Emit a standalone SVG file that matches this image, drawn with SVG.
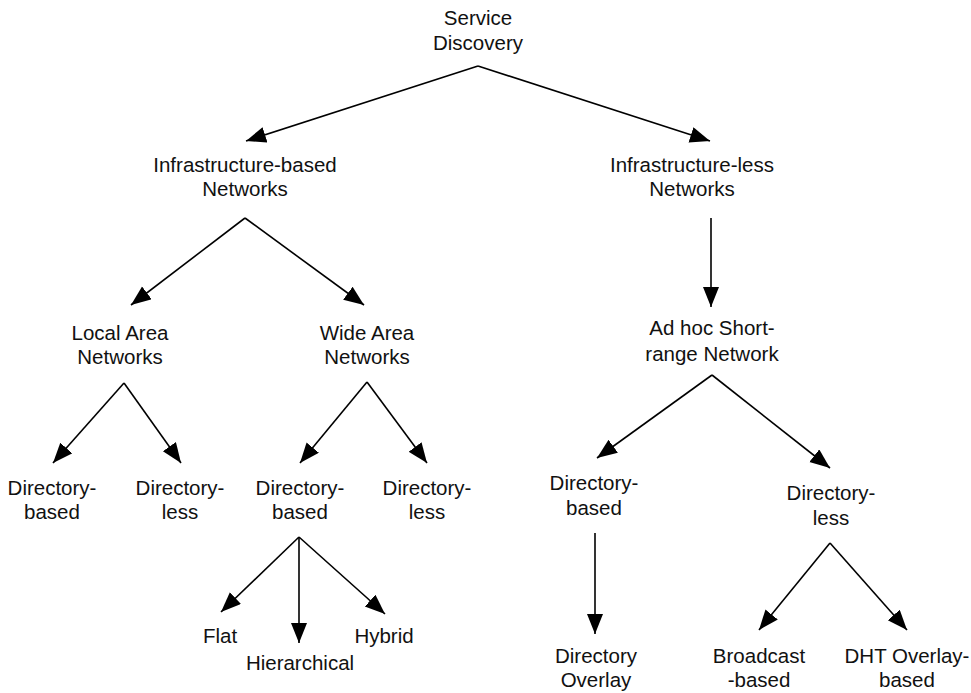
<svg xmlns="http://www.w3.org/2000/svg" width="971" height="693" viewBox="0 0 971 693">
  <style>
    text { font-family: "Liberation Sans", Arial, sans-serif; font-size: 20.5px; fill: #111; text-anchor: middle; }
    .edge { stroke: #000; stroke-width: 1.6; fill: none; marker-end: url(#arrow); }
  </style>
  <defs>
    <marker id="arrow" markerUnits="userSpaceOnUse" markerWidth="22" markerHeight="18" refX="20" refY="8" orient="auto">
      <path d="M0,0 L20,8 L0,16 z" fill="#000"/>
    </marker>
  </defs>
  <rect width="971" height="693" fill="#fff"/>

  <g id="connectors">
    <line class="edge" x1="478" y1="66" x2="246" y2="141"/>
    <line class="edge" x1="478" y1="66" x2="710" y2="141"/>
    <line class="edge" x1="245" y1="218" x2="131" y2="305"/>
    <line class="edge" x1="245" y1="218" x2="364" y2="305"/>
    <line class="edge" x1="711" y1="218" x2="711" y2="307"/>
    <line class="edge" x1="124" y1="383" x2="53" y2="463"/>
    <line class="edge" x1="124" y1="383" x2="181" y2="463"/>
    <line class="edge" x1="367" y1="382" x2="300" y2="463"/>
    <line class="edge" x1="367" y1="382" x2="427" y2="463"/>
    <line class="edge" x1="712" y1="375" x2="597" y2="458"/>
    <line class="edge" x1="712" y1="375" x2="830" y2="468"/>
    <line class="edge" x1="299" y1="537" x2="221" y2="612"/>
    <line class="edge" x1="299" y1="537" x2="299" y2="643"/>
    <line class="edge" x1="299" y1="537" x2="385" y2="614"/>
    <line class="edge" x1="595" y1="533" x2="595" y2="634"/>
    <line class="edge" x1="830" y1="543" x2="759" y2="630"/>
    <line class="edge" x1="830" y1="543" x2="907" y2="630"/>
  </g>

  <g id="service-discovery"><text x="478" y="25">Service</text><text x="478" y="50">Discovery</text></g>
  <g id="infra-based"><text x="245" y="172">Infrastructure-based</text><text x="245" y="196">Networks</text></g>
  <g id="infra-less"><text x="692" y="172">Infrastructure-less</text><text x="692" y="196">Networks</text></g>
  <g id="lan"><text x="120" y="340">Local Area</text><text x="120" y="364">Networks</text></g>
  <g id="wan"><text x="367" y="340">Wide Area</text><text x="367" y="364">Networks</text></g>
  <g id="adhoc"><text x="712" y="335">Ad hoc Short-</text><text x="712" y="361">range Network</text></g>
  <g id="lan-dir-based"><text x="52" y="495">Directory-</text><text x="52" y="519">based</text></g>
  <g id="lan-dir-less"><text x="180" y="495">Directory-</text><text x="180" y="519">less</text></g>
  <g id="wan-dir-based"><text x="300" y="495">Directory-</text><text x="300" y="519">based</text></g>
  <g id="wan-dir-less"><text x="427" y="495">Directory-</text><text x="427" y="519">less</text></g>
  <g id="adhoc-dir-based"><text x="594" y="490">Directory-</text><text x="594" y="515">based</text></g>
  <g id="adhoc-dir-less"><text x="831" y="500">Directory-</text><text x="831" y="525">less</text></g>
  <g id="flat"><text x="220" y="643">Flat</text></g>
  <g id="hierarchical"><text x="300" y="670">Hierarchical</text></g>
  <g id="hybrid"><text x="384" y="643">Hybrid</text></g>
  <g id="directory-overlay"><text x="596" y="663">Directory</text><text x="596" y="687">Overlay</text></g>
  <g id="broadcast"><text x="759" y="663">Broadcast</text><text x="759" y="687">-based</text></g>
  <g id="dht-overlay"><text x="907" y="663">DHT Overlay-</text><text x="907" y="687">based</text></g>
</svg>
